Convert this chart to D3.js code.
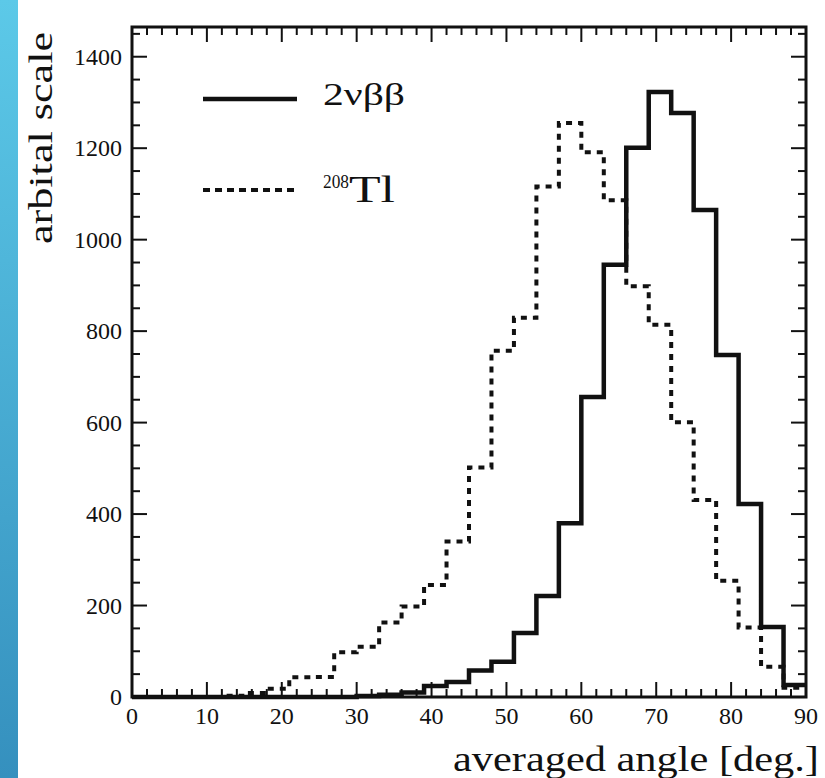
<!DOCTYPE html>
<html><head><meta charset="utf-8">
<script src="https://cdn.jsdelivr.net/npm/d3@7"></script>
<style>
html,body{margin:0;padding:0;background:#fff;}
svg{display:block;}
text{font-family:"Liberation Serif","DejaVu Serif",serif;fill:#111;}
</style></head>
<body>
<svg id="c" width="825" height="778"></svg>
<script>
// Data
const binEdges = d3.range(0, 91, 3); // 0,3,...,90
const nu2bb = [0,0,0,0,0,0,0,0,0,0,2,5,10,24,33,58,77,140,221,380,656,945,1201,1323,1277,1065,748,422,153,26];
const tl208 = [0,0,0,0,3,9,18,43,44,98,110,163,198,245,340,502,757,829,1116,1255,1191,1086,898,814,601,431,254,152,66,20];
const xTicks = [0,10,20,30,40,50,60,70,80,90];
const yTicks = [0,200,400,600,800,1000,1200,1400];
const xDomain = [0, 90];
const yDomain = [0, 1465];
const legendLabels = ["2νββ", "Tl"];

const svg = d3.select("#c");

// left blue strip
const defs = svg.append("defs");
const g = defs.append("linearGradient").attr("id","strip").attr("x1",0).attr("y1",0).attr("x2",0).attr("y2",1);
g.append("stop").attr("offset","0%").attr("stop-color","#5cc9e8");
g.append("stop").attr("offset","100%").attr("stop-color","#3590be");
svg.append("rect").attr("x",0).attr("y",0).attr("width",18).attr("height",778).attr("fill","url(#strip)");

const L = 132, R = 806, T = 27, B = 697;
const x = d3.scaleLinear().domain(xDomain).range([L, R]);
const y = d3.scaleLinear().domain(yDomain).range([B, T]);

// ticks (inward on all sides)
const ax = svg.append("g").attr("stroke","#111").attr("stroke-width",2);
d3.range(0, 91, 2).forEach(v => {
  const len = v % 10 === 0 ? 15 : 8;
  ax.append("line").attr("x1",x(v)).attr("x2",x(v)).attr("y1",B).attr("y2",B-len);
  ax.append("line").attr("x1",x(v)).attr("x2",x(v)).attr("y1",T).attr("y2",T+len);
});
d3.range(0, 1451, 50).forEach(v => {
  const len = v % 200 === 0 ? 15 : 8;
  ax.append("line").attr("y1",y(v)).attr("y2",y(v)).attr("x1",L).attr("x2",L+len);
  ax.append("line").attr("y1",y(v)).attr("y2",y(v)).attr("x1",R).attr("x2",R-len);
});

// histograms
function stepPoints(vals){
  const pts = vals.map((v,i)=>[binEdges[i], v]);
  pts.push([binEdges[vals.length], vals[vals.length-1]]);
  return pts;
}
const line = d3.line().x(d=>x(d[0])).y(d=>y(d[1])).curve(d3.curveStepAfter);

svg.append("path").attr("d", line(stepPoints(tl208)))
  .attr("fill","none").attr("stroke","#111").attr("stroke-width",4)
  .attr("stroke-dasharray","6,6");
svg.append("path").attr("d", line(stepPoints(nu2bb)))
  .attr("fill","none").attr("stroke","#111").attr("stroke-width",4.5)
  .attr("stroke-linejoin","miter");

// frame
svg.append("rect").attr("x",L).attr("y",T).attr("width",R-L).attr("height",B-T)
  .attr("fill","none").attr("stroke","#111").attr("stroke-width",3);

// tick labels
svg.append("g").selectAll("text").data(xTicks).join("text")
  .attr("x", d=>x(d)).attr("y", 724).attr("text-anchor","middle")
  .attr("font-size",24).text(d=>d);
svg.append("g").selectAll("text").data(yTicks).join("text")
  .attr("x", 122).attr("y", d=>y(d)+8).attr("text-anchor","end")
  .attr("font-size",24).text(d=>d);

// axis titles
svg.append("text").attr("x",819).attr("y",771).attr("text-anchor","end")
  .attr("font-size",36).attr("textLength",366).attr("lengthAdjust","spacingAndGlyphs")
  .text("averaged angle [deg.]");
svg.append("text").attr("transform","translate(52,138) rotate(-90)")
  .attr("text-anchor","middle").attr("font-size",34)
  .attr("textLength",212).attr("lengthAdjust","spacingAndGlyphs").text("arbital scale");

// legend
svg.append("line").attr("x1",203).attr("x2",297).attr("y1",99).attr("y2",99)
  .attr("stroke","#111").attr("stroke-width",4.5);
svg.append("text").attr("x",323).attr("y",105).attr("font-size",31)
  .attr("textLength",82).attr("lengthAdjust","spacingAndGlyphs").text(legendLabels[0]);
svg.append("line").attr("x1",203).attr("x2",297).attr("y1",190).attr("y2",190)
  .attr("stroke","#111").attr("stroke-width",4).attr("stroke-dasharray","7,5");
svg.append("text").attr("x",323).attr("y",188).attr("font-size",18)
  .attr("textLength",26).attr("lengthAdjust","spacingAndGlyphs").text("208");
svg.append("text").attr("x",349).attr("y",202).attr("font-size",37)
  .attr("textLength",46).attr("lengthAdjust","spacingAndGlyphs").text(legendLabels[1]);
</script>
</body></html>
